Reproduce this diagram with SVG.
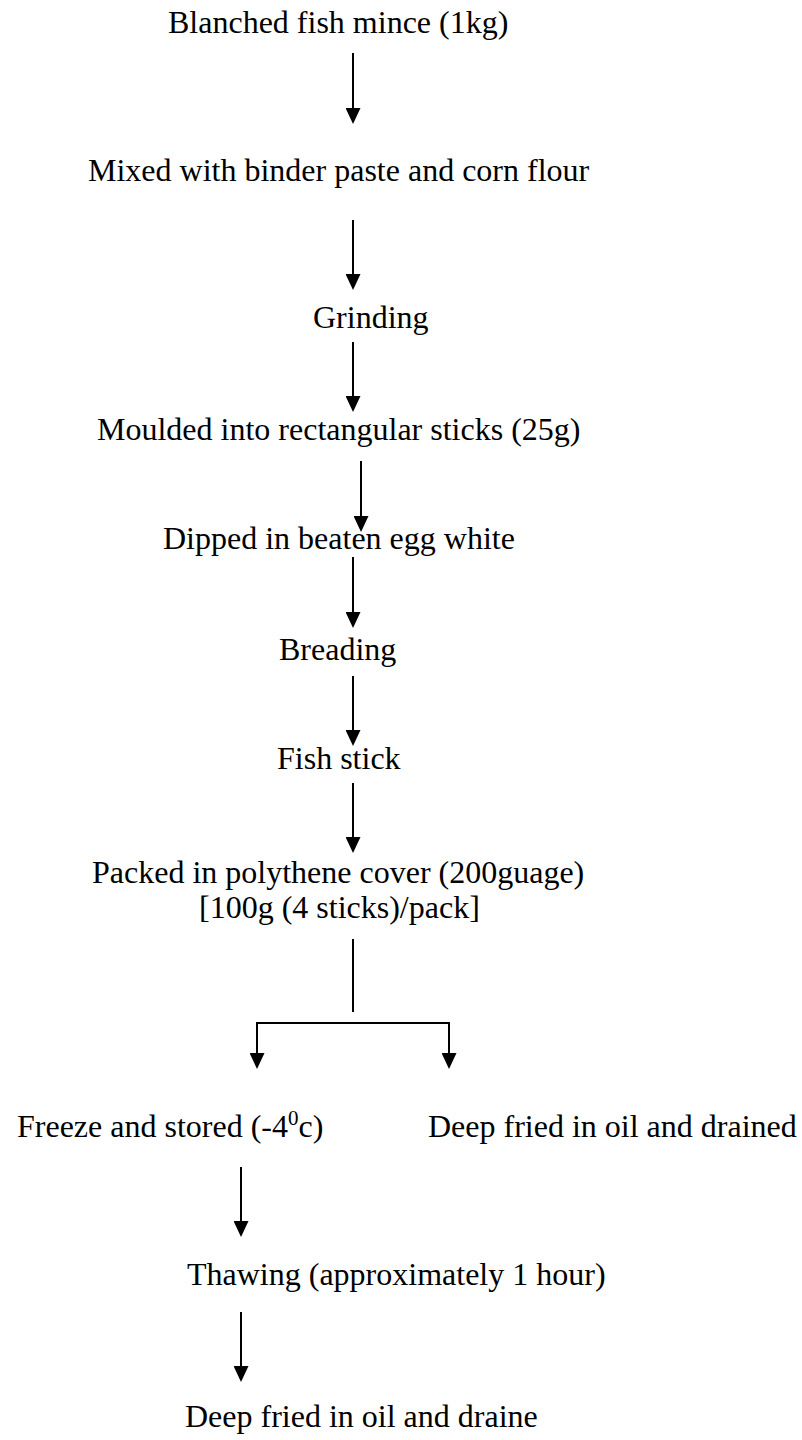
<svg xmlns="http://www.w3.org/2000/svg" width="802" height="1440" viewBox="0 0 802 1440">
<style>
  text { font-family: "Liberation Serif", "Times New Roman", serif; font-size: 32px; fill: #000; }
  .sup { font-size: 21px; }
  .c { stroke: #000; stroke-width: 2; fill: none; }
  .a { marker-end: url(#ah); }
</style>
<defs>
  <marker id="ah" markerUnits="userSpaceOnUse" markerWidth="16" markerHeight="15" refX="6" refY="7.5" orient="auto" viewBox="0 0 16 15">
    <path d="M0,0 L16,7.5 L0,15 Z" fill="#000"/>
  </marker>
</defs>
<rect width="802" height="1440" fill="#fff"/>
<g id="connectors">
  <line class="c a" x1="353" y1="53" x2="353" y2="114"/>
  <line class="c a" x1="353" y1="220" x2="353" y2="280"/>
  <line class="c a" x1="353" y1="342" x2="353" y2="402"/>
  <line class="c a" x1="361" y1="461" x2="361" y2="522"/>
  <line class="c a" x1="353" y1="557" x2="353" y2="618"/>
  <line class="c a" x1="353" y1="676" x2="353" y2="736"/>
  <line class="c a" x1="353" y1="783" x2="353" y2="843"/>
  <line class="c" x1="353" y1="939" x2="353" y2="1012"/>
  <polyline class="c" points="257,1059 257,1023 449,1023 449,1059" style="marker-end:none"/>
  <line class="c a" x1="257" y1="1040" x2="257" y2="1059"/>
  <line class="c a" x1="449" y1="1040" x2="449" y2="1059"/>
  <line class="c a" x1="241" y1="1167" x2="241" y2="1227"/>
  <line class="c a" x1="241" y1="1312" x2="241" y2="1372"/>
</g>
<g id="n1"><text x="168" y="33">Blanched fish mince (1kg)</text></g>
<g id="n2"><text x="88" y="181">Mixed with binder paste and corn flour</text></g>
<g id="n3"><text x="313" y="328">Grinding</text></g>
<g id="n4"><text x="97" y="440">Moulded into rectangular sticks (25g)</text></g>
<g id="n5"><text x="163" y="549">Dipped in beaten egg white</text></g>
<g id="n6"><text x="279" y="660">Breading</text></g>
<g id="n7"><text x="277" y="769">Fish stick</text></g>
<g id="n8">
  <text x="92" y="883">Packed in polythene cover (200guage)</text>
  <text x="199" y="918">[100g (4 sticks)/pack]</text>
</g>
<g id="n9"><text x="17" y="1137">Freeze and stored (-4<tspan class="sup" dy="-12">0</tspan><tspan dy="12">c)</tspan></text></g>
<g id="n10"><text x="428" y="1137">Deep fried in oil and drained</text></g>
<g id="n11"><text x="187" y="1285">Thawing (approximately 1 hour)</text></g>
<g id="n12"><text x="185" y="1427">Deep fried in oil and draine</text></g>
</svg>
